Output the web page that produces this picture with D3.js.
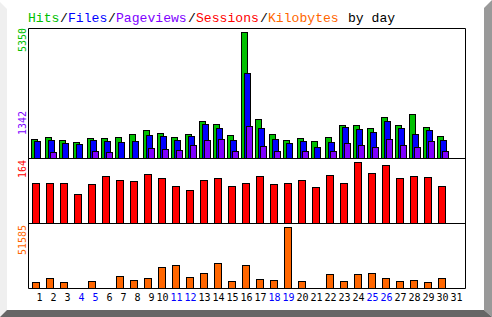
<!DOCTYPE html>
<html>
<head>
<meta charset="utf-8">
<script src="https://cdn.jsdelivr.net/npm/d3@7"></script>
<style>
  html, body { margin: 0; padding: 0; background: #fff; }
  svg { display: block; }
</style>
</head>
<body>
<svg width="492" height="317"></svg>
<script>
// daily values
const days = d3.range(1, 32);
const hits      = [807, 892, 764, 679, 849, 849, 892, 1019, 1189, 1062, 892, 1019, 1571, 1444, 977, 5350,
                   1656, 1019, 764, 849, 722, 892, 1401, 1401, 1274, 1741, 1401, 1868, 1316, 934, 0];
const files     = [722, 764, 637, 594, 764, 722, 679, 722, 977, 934, 764, 934, 1444, 1274, 764, 3609,
                   1274, 807, 637, 722, 467, 679, 1316, 1231, 1104, 1571, 1274, 1019, 1189, 764, 0];
const pageviews = [0, 255, 0, 0, 297, 255, 0, 0, 425, 382, 340, 552, 764, 807, 297, 1342,
                   510, 297, 0, 297, 0, 297, 637, 552, 467, 807, 552, 467, 722, 297, 0];
const sessions  = [108, 108, 108, 78, 105, 127, 116, 113, 132, 121, 99, 89, 116, 121, 99, 108,
                   127, 105, 108, 116, 97, 129, 108, 164, 135, 156, 121, 127, 124, 99, 0];
const kbytes    = [4850, 8250, 4850, 0, 5700, 0, 9950, 6550, 8250, 17600, 19300, 9100, 12500, 21000, 5700, 19300,
                   7400, 6550, 51585, 5700, 0, 11650, 5700, 11650, 12500, 8250, 5700, 6550, 4850, 8250, 0];
const weekendDays = [4, 5, 11, 12, 18, 19, 25, 26];

const titleParts = [
  {t: "Hits", c: "#00c000"}, {t: "/", c: "#000"},
  {t: "Files", c: "#0000ff"}, {t: "/", c: "#000"},
  {t: "Pageviews", c: "#8000ff"}, {t: "/", c: "#000"},
  {t: "Sessions", c: "#ff0000"}, {t: "/", c: "#000"},
  {t: "Kilobytes", c: "#ff6600"}, {t: "by day", c: "#000", gap: 1}
];

const svg = d3.select("svg");
const mono = "'DejaVu Sans Mono', 'Liberation Mono', monospace";

// bevelled frame
svg.append("polygon").attr("points", "0,2 7,9 7,310 0,317").attr("fill", "#efefef");
svg.append("polygon").attr("points", "492,0 484,8 484,310 492,317").attr("fill", "#999999");
svg.append("polygon").attr("points", "0,317 7,310 484,310 492,317").attr("fill", "#666666");

// scales
const x = d3.scaleBand().domain(days).range([28, 28 + 31 * 14]);
const yHits = d3.scaleLinear().domain([0, 5350]).range([158, 32]);
const ySess = d3.scaleLinear().domain([0, 164]).range([223, 162.3]);
const yKb   = d3.scaleLinear().domain([0, 51585]).range([288, 227.3]);

// title, 8px per character like the bitmap font
let col = 0;
titleParts.forEach(p => {
  col += p.gap || 0;
  p.col = col;
  col += p.t.length;
});
svg.append("g").selectAll("text").data(titleParts).join("text")
  .attr("x", d => 28 + d.col * 8)
  .attr("y", 22)
  .attr("font-family", "'Liberation Mono', monospace")
  .attr("font-size", 13.1)
  .attr("fill", d => d.c)
  .text(d => d.t);

// bars: helper that draws one series
function bars(values, y, offset, width, color, bottom) {
  svg.append("g").selectAll("rect")
    .data(days.filter((d, i) => values[i] > 0))
    .join("rect")
    .attr("x", d => x(d) + offset + 0.5)
    .attr("y", d => Math.round(y(values[d - 1])) + 0.5)
    .attr("width", width)
    .attr("height", d => bottom - Math.round(y(values[d - 1])))
    .attr("fill", color)
    .attr("stroke", "#000")
    .attr("stroke-width", 1);
}

bars(hits, yHits, 3, 6, "#00c000", 158);
bars(files, yHits, 6, 6, "#0000ff", 158);
bars(pageviews, yHits, 8, 6, "#8000ff", 158);
bars(sessions, ySess, 4, 7, "#ff0000", 223);
bars(kbytes, yKb, 4, 7, "#ff6600", 288);

// panel frames
const frame = svg.append("g").attr("stroke", "#000").attr("stroke-width", 1).attr("fill", "none");
frame.append("path").attr("d", "M28.5,28.5H465.5V288.5H28.5Z");
frame.append("path").attr("d", "M28.5,158.5H465.5M28.5,223.5H465.5");

// rotated max labels
const maxLabels = [
  {t: "5350", c: "#00c000", y: 28},
  {t: "1342", c: "#8000ff", y: 111},
  {t: "164", c: "#ff0000", y: 160},
  {t: "51585", c: "#ff6600", y: 225}
];
svg.append("g").selectAll("text").data(maxLabels).join("text")
  .attr("transform", d => `translate(26,${d.y}) rotate(-90)`)
  .attr("text-anchor", "end")
  .attr("font-family", mono)
  .attr("font-size", 10)
  .attr("fill", d => d.c)
  .text(d => d.t);

// day labels
svg.append("g").selectAll("text").data(days).join("text")
  .attr("x", d => x(d) + 8 + 6.5)
  .attr("y", 301)
  .attr("text-anchor", "end")
  .attr("font-family", mono)
  .attr("font-size", 10)
  .attr("fill", d => weekendDays.includes(d) ? "#0000ff" : "#000")
  .text(d => d);
</script>
</body>
</html>
